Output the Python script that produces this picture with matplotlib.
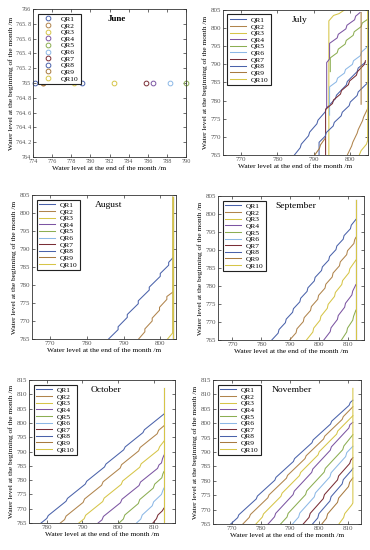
import numpy as np
import matplotlib
matplotlib.use("Agg")
import matplotlib.pyplot as plt

plt.rcParams['font.family'] = ['Liberation Serif', 'DejaVu Serif']

names = ['QR1', 'QR2', 'QR3', 'QR4', 'QR5', 'QR6', 'QR7', 'QR8', 'QR9', 'QR10']
colors = ['#4a62aa', '#b0844c', '#d6c548', '#7c55a2', '#8cae52',
          '#8cb8e6', '#7a2e36', '#4a62aa', '#a87a40', '#d6c548']

# June: single points (end level), all start at 765
june_x = [774.2, 775.0, 778.3, 786.6, 790.0, 788.3, 785.8, 779.1, 775.0, 782.5]
june_y = [765] * 10

nan = np.nan
# July: vertex lists (x = end level, y = start level)
jul_x = [
    [784.7, 786.3, 786.6, 788.6, 788.9, 790.9, 791.2, 793.2, 793.5, 796.0, 796.3, 799.0, 799.3, 802.0, 802.3, 804.2],
    [799.3, 800.5, 800.8, 802.0, 802.3, 803.5, 803.8, 805.0],
    [794.2, 794.2, 795.5, 797.0, 798.5],
    [793.6, 793.6, 794.4, 794.4, 796.5, 796.8, 798.9, 799.2, 801.3, 801.6, 802.8],
    [794.6, 794.6, 796.5, 796.8, 798.7, 799.0, 800.9, 801.2, 803.1, 803.4, 805.0],
    [794.4, 794.4, 796.3, 796.6, 798.5, 798.8, 800.7, 801.0, 802.9, 803.2, 805.0],
    [793.3, 793.3, 795.2, 795.5, 797.4, 797.7, 799.6, 799.9, 801.8, 802.1, 804.0, 804.3],
    [791.5, 791.5, 793.2, 793.5, 795.4, 795.7, 797.6, 797.9, 799.8, 800.1, 802.0, 802.3, 805.0],
    [790.3, 791.6, 791.9, 793.1, nan, 803.1, 803.1],
    [802.6, 803.1, 804.6, 804.9, 804.9],
]
jul_y = [
    [765, 767, 768, 770.3, 771.3, 773.6, 774.6, 776.9, 777.9, 780.5, 781.5, 784.3, 785.3, 788, 789, 790.5],
    [765, 767.5, 768.5, 771, 772, 774.5, 775.5, 778],
    [765, 802, 803.5, 804, 805],
    [778, 790.5, 791.5, 795.8, 797.3, 798.3, 799.8, 800.8, 802.3, 803.3, 804.3],
    [788, 791.8, 793.2, 794.2, 795.6, 796.6, 798, 799, 800.4, 801.4, 802.5],
    [776, 783.8, 785.2, 786.2, 787.6, 788.6, 790, 791, 792.4, 793.4, 795],
    [765, 777.6, 779.2, 780.2, 781.8, 782.8, 784.4, 785.4, 787, 788, 790, 791],
    [765, 768.5, 770.2, 771.2, 773, 774, 775.8, 776.8, 778.6, 779.6, 781.4, 782.4, 785],
    [765, 766.8, 767.8, 769.5, nan, 779, 804.3],
    [765, 766.2, 768, 769, 805],
]

# August
aug_x = [
    [785.9, 788.5, 788.5, 791.0, 791.0, 794.0, 794.0, 797.0, 797.0, 800.0, 800.0, 802.3, 802.3, 803.4],
    [794.1, 795.8, 795.8, 797.8, 797.8, 799.8, 799.8, 801.8, 801.8, 803.4],
    [802.0, 803.4, 803.4],
] + [[803.4, 803.4]] * 7
aug_y = [
    [765, 767.6, 768.4, 771, 771.8, 774.8, 775.6, 778.6, 779.4, 782.4, 783.2, 785.5, 786.3, 787.5],
    [765, 767, 767.8, 770, 770.8, 773, 773.8, 776, 776.8, 778],
    [765, 766.7, 804.5],
] + [[765, 804.5]] * 7

# September
sep_x = [
    [783.6, 785.8, 786.1, 788.3, 788.6, 790.8, 791.1, 793.3, 793.6, 795.8, 796.1, 798.3, 798.6, 800.8, 801.1,
     803.3, 803.6, 805.8, 806.1, 808.3, 808.6, 810.8, 811.1, 812.7],
    [789.8, 792.0, 792.3, 794.5, 794.8, 797.0, 797.3, 799.5, 799.8, 802.0, 802.3, 804.5, 804.8, 807.0, 807.3,
     809.5, 809.8, 812.0, 812.3, 812.7],
    [795.6, 797.8, 798.1, 800.3, 800.6, 802.8, 803.1, 805.3, 805.6, 807.8, 808.1, 810.3, 810.6, 812.7],
    [801.6, 803.8, 804.1, 806.3, 806.6, 808.8, 809.1, 811.3, 811.6, 812.7],
    [807.7, 809.5, 809.8, 811.6, 811.9, 812.7],
] + [[812.7, 812.7]] * 5
sep_y = [
    [765, 766.9, 767.9, 769.8, 770.8, 772.7, 773.7, 775.6, 776.6, 778.5, 779.5, 781.4, 782.4, 784.3, 785.3,
     787.2, 788.2, 790.1, 791.1, 793, 794, 795.9, 796.9, 798.5],
    [765, 767, 768.1, 770.1, 771.2, 773.2, 774.3, 776.3, 777.4, 779.4, 780.5, 782.5, 783.6, 785.6, 786.7,
     788.7, 789.8, 791.8, 792.9, 793.5],
    [765, 767.2, 768.3, 770.5, 771.6, 773.8, 774.9, 777.1, 778.2, 780.4, 781.5, 783.7, 784.8, 787.2],
    [765, 767.3, 768.4, 770.7, 771.8, 774.1, 775.2, 777.5, 778.6, 780.4],
    [765, 767.2, 768.3, 770.5, 771.6, 773.3],
] + [[765, 803.9]] * 5

# October
oct_x = [
    [778.4, 780.0, 780.4, 785.4, 785.8, 790.8, 791.2, 796.2, 796.6, 801.6, 802.0, 807.0, 807.4, 812.9],
    [783.8, 785.0, 785.4, 790.2, 790.6, 795.4, 795.8, 800.6, 801.0, 805.8, 806.2, 811.0, 811.4, 812.9],
    [789.0, 790.5, 790.9, 795.7, 796.1, 800.9, 801.3, 806.1, 806.5, 811.3, 811.7, 812.9],
    [794.4, 795.5, 795.9, 800.7, 801.1, 805.9, 806.3, 811.1, 811.5, 812.2, 812.5, 812.9],
    [800.3, 801.5, 801.9, 805.7, 806.1, 809.9, 810.3, 812.3, 812.6, 812.9],
    [805.2, 806.4, 806.8, 809.6, 810.0, 812.2, 812.6, 812.9],
    [809.8, 810.8, 811.2, 812.4, 812.9],
] + [[812.9, 812.9]] * 3
oct_y = [
    [765, 766.6, 767.6, 772.6, 773.6, 778.6, 779.6, 784.6, 785.6, 790.6, 791.6, 796.6, 797.6, 803.1],
    [765, 766.2, 767.4, 772.2, 773.4, 778.2, 779.4, 784.2, 785.4, 790.2, 791.4, 796.2, 797.4, 799],
    [765, 766.5, 767.7, 772.5, 773.7, 778.5, 779.7, 784.5, 785.7, 790.5, 791.7, 793.6],
    [765, 766.1, 767.3, 772.1, 773.3, 778.1, 779.3, 784.1, 785.3, 786, 787.5, 788.7],
    [765, 766.4, 767.8, 771.8, 773.2, 777.2, 778.6, 780.8, 782.2, 783],
    [765, 766.4, 767.8, 771, 772.4, 775, 776.4, 777.2],
    [765, 766.5, 767.8, 769.2, 770.2],
] + [[765, 812.3]] * 3

# November
nov_x = [
    [769.6, 772.0, 772.4, 778.4, 778.8, 784.8, 785.2, 791.2, 791.6, 797.6, 798.0, 804.0, 804.4, 810.4, 810.8, 811.7],
    [773.8, 776.0, 776.4, 782.4, 782.8, 788.8, 789.2, 795.2, 795.6, 801.6, 802.0, 808.0, 808.4, 811.7],
    [778.3, 780.5, 780.9, 786.9, 787.3, 793.3, 793.7, 799.7, 800.1, 806.1, 806.5, 811.7],
    [782.5, 784.7, 785.1, 791.1, 791.5, 797.5, 797.9, 803.9, 804.3, 810.3, 810.7, 811.7],
    [786.8, 789.0, 789.4, 795.4, 795.8, 801.8, 802.2, 808.2, 808.6, 811.7],
    [790.9, 793.0, 793.4, 798.4, 798.8, 803.8, 804.2, 809.2, 809.6, 811.7],
    [794.6, 796.6, 797.0, 801.5, 801.9, 806.4, 806.8, 810.6, 811.0, 811.7],
    [797.8, 799.6, 800.0, 803.8, 804.2, 808.0, 808.4, 811.3, 811.7],
    [801.0, 802.6, 803.0, 806.4, 806.8, 810.2, 810.6, 811.7],
    [806.9, 808.5, 808.9, 811.3, 811.7, 811.7],
]
nov_y = [
    [765, 767.2, 768.2, 773.7, 774.7, 780.2, 781.2, 786.7, 787.7, 793.2, 794.2, 799.7, 800.7, 806.2, 807.2, 808],
    [765, 767.3, 768.3, 774.1, 775.1, 780.9, 781.9, 787.7, 788.7, 794.5, 795.5, 801.3, 802.3, 805.7],
    [765, 767.4, 768.5, 774.6, 775.7, 781.8, 782.9, 789, 790.1, 796.2, 797.3, 802.6],
    [765, 767.5, 768.7, 775.2, 776.4, 782.9, 784.1, 790.6, 791.8, 798.3, 799.5, 800.3],
    [765, 767.4, 768.7, 775.2, 776.5, 783, 784.3, 790.8, 792.1, 796],
    [765, 767.4, 768.8, 774.4, 775.8, 781.4, 782.8, 788.4, 789.8, 792],
    [765, 767.3, 768.7, 773.8, 775.2, 780.3, 781.7, 786, 787.2, 788],
    [765, 767.1, 768.6, 773, 774.5, 778.9, 780.4, 783.7, 784.4],
    [765, 767, 768.5, 772.5, 774, 778, 779.5, 781],
    [765, 767.2, 768.6, 771.6, 772.3, 812.1],
]

W, H = 370, 550
fig = plt.figure(figsize=(W / 100, H / 100), dpi=100)


def make_axes(box):
    l, t, r, b = box
    ax = fig.add_axes([l / W, 1 - b / H, (r - l) / W, (b - t) / H])
    ax.tick_params(direction='in', length=2, width=0.5, top=True, right=True,
                   labelsize=5, labelcolor='#555555', pad=1.5, colors='#333333')
    for s in ax.spines.values():
        s.set_linewidth(0.6)
        s.set_color('#333333')
    ax.set_xlabel('Water level at the end of the month /m', fontsize=5.3, labelpad=1.5)
    ax.set_ylabel('Water level at the beginning of the month /m', fontsize=5.3, labelpad=1.5)
    return ax


def add_legend(ax, handles):
    leg = ax.legend(handles=handles, labels=names, loc='upper left', fontsize=5.4,
                    handlelength=2.2, labelspacing=0.05, borderpad=0.3,
                    handletextpad=0.6, borderaxespad=0.6, fancybox=False,
                    framealpha=1, edgecolor='#222222')
    leg.get_frame().set_linewidth(0.8)


# June
ax = make_axes((33, 9, 186, 157))
hs = []
for i in range(10):
    h, = ax.plot(june_x[i], june_y[i], 'o', mfc='none', mec=colors[i], ms=3.4, mew=0.7,
                 clip_on=False)
    hs.append(h)
ax.set_xlim(774, 790)
ax.set_ylim(764, 766)
ax.set_xticks(np.arange(774, 791, 2))
yt = np.round(np.arange(764, 766.01, 0.2), 1)
ax.set_yticks(yt)
ax.set_yticklabels([('%g' % v).replace('.', '. ') for v in yt])
ax.tick_params(labelsize=4.4)
ax.text(0.55, 0.93, 'June', transform=ax.transAxes, ha='center', va='center',
        fontsize=6.5, fontweight='bold')
add_legend(ax, hs)

panels = [
    ('July', (223, 10, 368, 155), jul_x, jul_y, (765, 805), (765, 805), [770, 780, 790, 800]),
    ('August', (32, 195, 176, 339), aug_x, aug_y, (765, 804.3), (765, 805), [770, 780, 790, 800]),
    ('September', (218, 196, 364, 340), sep_x, sep_y, (765, 815.5), (765, 805), [770, 780, 790, 800, 810]),
    ('October', (29, 380, 175, 523), oct_x, oct_y, (775, 816), (765, 815), [780, 790, 800, 810]),
    ('November', (213, 380, 361, 524), nov_x, nov_y, (763.5, 814.5), (765, 815), [770, 780, 790, 800, 810]),
]

for title, box, xs, ys, xl, yl, xt in panels:
    ax = make_axes(box)
    hs = []
    for i in range(10):
        h, = ax.plot(xs[i], ys[i], color=colors[i], lw=0.75)
        hs.append(h)
    ax.set_xlim(*xl)
    ax.set_ylim(*yl)
    ax.set_xticks(xt)
    ax.set_yticks(np.arange(yl[0], yl[1] + 0.1, 5))
    ax.text(0.53, 0.93, title, transform=ax.transAxes, ha='center', va='center',
            fontsize=6.8)
    add_legend(ax, hs)

fig.savefig('out.png', dpi=100)
